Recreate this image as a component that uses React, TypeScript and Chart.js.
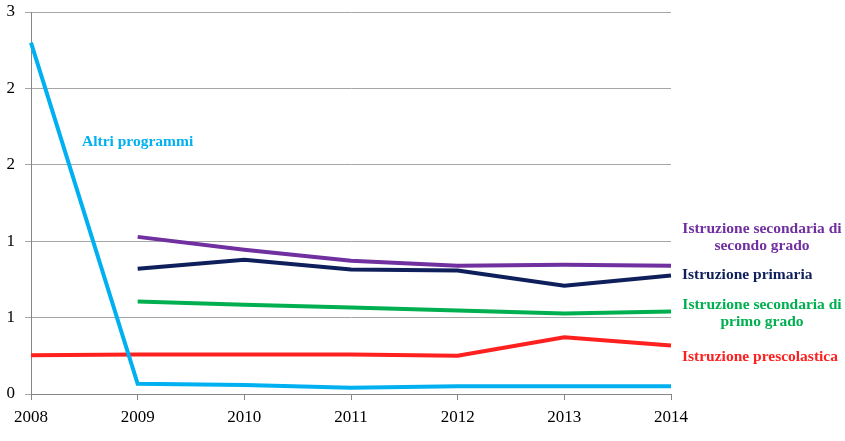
import React, { useEffect, useRef } from "react";
import { Chart, registerables } from "chart.js";

Chart.register(...registerables);

const years = ["2008", "2009", "2010", "2011", "2012", "2013", "2014"];
const altriProgrammi = [2.76, 0.08, 0.07, 0.05, 0.06, 0.06, 0.06];
const secondariaSecondo = [null, 1.234, 1.133, 1.047, 1.008, 1.016, 1.008];
const primaria = [null, 0.984, 1.055, 0.977, 0.969, 0.85, 0.93];
const secondariaPrimo = [null, 0.727, 0.7, 0.68, 0.656, 0.633, 0.648];
const prescolastica = [0.305, 0.31, 0.31, 0.31, 0.3, 0.445, 0.38];

const seriesNames = [
  "Altri programmi",
  "Istruzione secondaria di secondo grado",
  "Istruzione primaria",
  "Istruzione secondaria di primo grado",
  "Istruzione prescolastica",
];
const seriesColors = ["#00B0F0", "#7030A0", "#0E1F5B", "#00B050", "#FF2020"];

const serif = "'Liberation Serif', 'Times New Roman', serif";
const labelFont = "bold 15.5px " + serif;

const labelPlugin = {
  id: "seriesLabels",
  afterDatasetsDraw(chart: any) {
    const { ctx, chartArea, scales } = chart;
    const r = chartArea.right;
    ctx.save();
    ctx.font = labelFont;
    ctx.textBaseline = "middle";
    ctx.fillStyle = seriesColors[0];
    ctx.textAlign = "left";
    ctx.fillText(seriesNames[0], scales.x.getPixelForValue(0) + 51, 142);
    const cx = r + 91;
    ctx.fillStyle = seriesColors[1];
    ctx.textAlign = "center";
    ctx.fillText("Istruzione secondaria di", cx, 229);
    ctx.fillText("secondo grado", cx, 246);
    ctx.fillStyle = seriesColors[2];
    ctx.textAlign = "left";
    ctx.fillText(seriesNames[2], r + 11, 275);
    ctx.fillStyle = seriesColors[3];
    ctx.textAlign = "center";
    ctx.fillText("Istruzione secondaria di", cx, 305);
    ctx.fillText("primo grado", cx, 322);
    ctx.fillStyle = seriesColors[4];
    ctx.textAlign = "left";
    ctx.fillText(seriesNames[4], r + 11, 357);
    ctx.restore();
  },
};

export default function App() {
  const ref = useRef<HTMLCanvasElement>(null);
  useEffect(() => {
    document.body.style.margin = "0";
    const values = [altriProgrammi, secondariaSecondo, primaria, secondariaPrimo, prescolastica];
    const chart = new Chart(ref.current as HTMLCanvasElement, {
      type: "line",
      data: {
        labels: years,
        datasets: values.map((d, i) => ({
          label: seriesNames[i],
          data: d as any,
          borderColor: seriesColors[i],
          backgroundColor: seriesColors[i],
          borderWidth: 4,
          pointRadius: 0,
          tension: 0,
          fill: false,
        })),
      },
      options: {
        animation: false,
        responsive: false,
        maintainAspectRatio: false,
        layout: { padding: { top: 12, right: 174, left: 0, bottom: 0 } },
        plugins: { legend: { display: false }, tooltip: { enabled: false } },
        scales: {
          x: {
            type: "category",
            offset: false,
            grid: {
              offset: false,
              drawOnChartArea: false,
              drawTicks: true,
              tickLength: 6,
              color: "#868686",
            },
            border: { display: true, color: "#868686", width: 1 },
            ticks: {
              color: "#000",
              font: { family: serif, size: 17 },
              padding: 7,
              maxRotation: 0,
              autoSkip: false,
            },
            afterFit(scale: any) {
              scale.height = 47;
            },
          },
          y: {
            min: 0,
            max: 3,
            grid: { color: "#A6A6A6", lineWidth: 1, tickLength: 6, drawTicks: true },
            border: { display: true, color: "#868686", width: 1 },
            ticks: {
              stepSize: 0.6,
              color: "#000",
              padding: 10,
              font: { family: serif, size: 17 },
              callback: (v: any) => String(Math.round(Number(v))),
            },
            afterFit(scale: any) {
              scale.width = 31;
              scale.paddingTop = 0;
              scale.paddingBottom = 0;
            },
          },
        },
      },
      plugins: [labelPlugin],
    });
    return () => chart.destroy();
  }, []);
  return (
    <div style={{ width: 845, height: 441 }}>
      <canvas ref={ref} width={845} height={441} style={{ width: 845, height: 441, display: "block" }} />
    </div>
  );
}
